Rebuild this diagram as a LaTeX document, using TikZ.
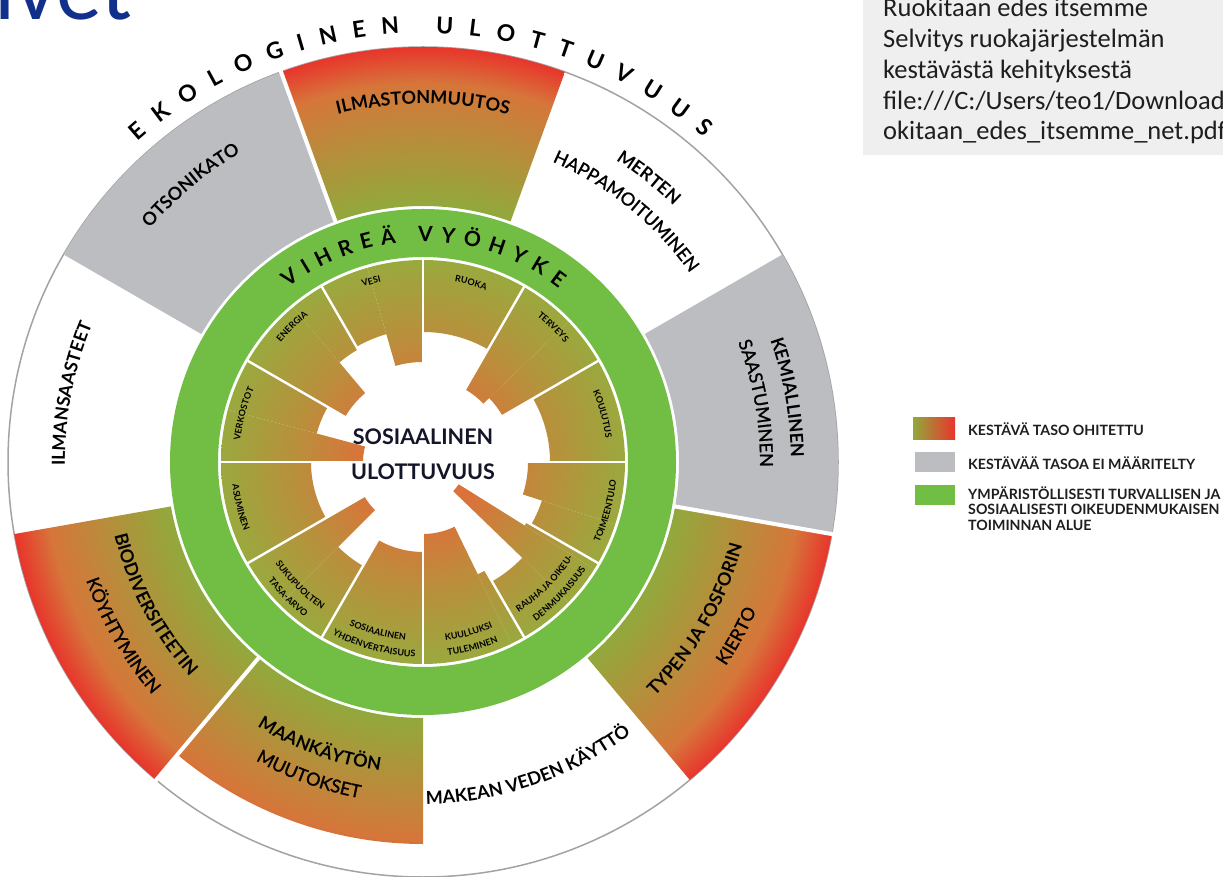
\documentclass[tikz,border=0pt]{standalone}
\usepackage{fontspec}
\setmainfont{Lato}
\newfontfamily\notefont{Carlito}
\newfontfamily\medfont{Lato}[FakeBold=1.2]
\usetikzlibrary{decorations.text}
\definecolor{clrOlive}{HTML}{93A83C}
\definecolor{clrMid}{HTML}{D6763A}
\definecolor{clrRed}{HTML}{E8352C}
\definecolor{clrInOlive}{HTML}{9AA93E}
\definecolor{clrInMid}{HTML}{B8903C}
\definecolor{clrInOrange}{HTML}{DB723A}
\definecolor{clrGreen}{HTML}{72BE45}
\definecolor{clrGray}{HTML}{BBBDC0}
\definecolor{clrRim}{HTML}{A3A3A3}
\definecolor{clrNote}{HTML}{EFEFEF}
\definecolor{clrTitle}{HTML}{10308C}
\definecolor{clrInk}{HTML}{1E1E1E}
\definecolor{clrCenter}{HTML}{15152A}
\pgfdeclareradialshading{outergrad}{\pgfpoint{0bp}{0bp}}{color(0bp)=(clrOlive); color(15.6bp)=(clrOlive); color(22.8bp)=(clrMid); color(25bp)=(clrRed); color(50bp)=(clrRed)}
\pgfdeclareradialshading{innergrad}{\pgfpoint{0bp}{0bp}}{color(0bp)=(clrInOrange); color(7.5bp)=(clrInOrange); color(16bp)=(clrInMid); color(25bp)=(clrInOlive); color(50bp)=(clrInOlive)}
\newcommand{\LabB}{\bfseries\fontsize{18}{18}\selectfont}
\newcommand{\LabR}{\medfont\fontsize{18}{18}\selectfont}
\newcommand{\LabS}{\bfseries\fontsize{9}{9}\selectfont}
\newcommand{\CWText}[4]{\path[decorate,decoration={text along path,text align=center,text={|#3|#4}}] ({#1+45}:#2) arc[start angle={#1+45},end angle={#1-45},radius=#2];}
\newcommand{\CCWText}[4]{\path[decorate,decoration={text along path,text align=center,text={|#3|#4}}] ({#1-45}:#2) arc[start angle={#1-45},end angle={#1+45},radius=#2];}
\newcommand{\GrayWedge}[2]{\fill[clrGray] (#1:256) arc[start angle=#1,end angle=#2,radius=256] -- (#2:415) arc[start angle=#2,end angle=#1,radius=415] -- cycle;}
\newcommand{\GradWedge}[3]{\begin{scope}\clip (#1:256) arc[start angle=#1,end angle=#2,radius=256] -- (#2:#3) arc[start angle=#2,end angle=#1,radius=#3] -- cycle; \shade[shading=outergrad] (0,0) circle (415);\end{scope}}
\tikzset{
  legendtext/.style={anchor=base west, inner sep=0, text=clrInk, font=\bfseries\fontsize{14.2}{14.2}\selectfont},
  notetext/.style={anchor=base west, inner sep=0, text=clrInk, font=\notefont\fontsize{26.5}{26.5}\selectfont},
  centertext/.style={inner sep=0, text=clrCenter, font=\bfseries\fontsize{21.5}{21.5}\selectfont}
}
\begin{document}
\begin{tikzpicture}[x=1pt,y=1pt]
\useasboundingbox (0,0) rectangle (1223,876);
\fill[white] (0,0) rectangle (1223,876);
% note box
\fill[clrNote] (863,721) rectangle (1223,880);
\node[notetext] (note1) at (883,859) {Ruokitaan edes itsemme};
\node[notetext] (note2) at (883,828) {Selvitys ruokajärjestelmän};
\node[notetext] (note3) at (883,797) {kestävästä kehityksestä};
\node[notetext] (note4) at (883,766) {file:///C:/Users/teo1/Downloads/Ru};
\node[notetext] (note5) at (883,736) {okitaan\_edes\_itsemme\_net.pdf};
% title fragment
\node[anchor=base west, inner sep=0, text=clrTitle, font=\notefont\fontsize{92}{92}\selectfont] (title) at (-6,856) {ivet};
% legend
\shade[left color=clrOlive, middle color=clrMid, right color=clrRed] (913,436) rectangle (955,458);
\fill[clrGray] (915,404) rectangle (955,424);
\fill[clrGreen] (915,371) rectangle (955,391);
\node[legendtext] (leg1) at (968,440) {KESTÄVÄ TASO OHITETTU};
\node[legendtext] (leg2) at (968,406) {KESTÄVÄÄ TASOA EI MÄÄRITELTY};
\node[legendtext] (leg3) at (968,376) {YMPÄRISTÖLLISESTI TURVALLISEN JA};
\node[legendtext] (leg4) at (968,361) {SOSIAALISESTI OIKEUDENMUKAISEN};
\node[legendtext] (leg5) at (968,345) {TOIMINNAN ALUE};
% doughnut
\begin{scope}[shift={(423,414)}]
  \draw[clrRim, line width=1.5] (0,0) circle (415);
  % ecological sectors
  \GradWedge{70}{110}{415}
  \GrayWedge{110}{150}
  \GrayWedge{-10}{30}
  \GradWedge{-50}{-10}{415}
  \GradWedge{-130}{-90}{382}
  \GradWedge{-170}{-130}{415}
  \foreach \t in {110,-10,-130} \draw[white, line width=4] (\t:250) -- (\t:420);
  % green band
  \fill[clrGreen, even odd rule] (0,0) circle (253) (0,0) circle (205);
  % social sectors
  \foreach \a/\b/\r in {90/106/100, 106/120/133, 120/130/130, 130/150/90,
      150/165/110, 165/180/60, 180/210/112, 210/225/68, 225/240/120,
      240/270/90, 270/296/72, 296/300/125, 300/316/138, 316/328/42,
      328/330/120, 330/342/125, 342/360/105, 0/30/127, 30/44/92,
      44/60/84, 60/90/130} {
    \begin{scope}
      \clip (\a:\r) arc[start angle=\a,end angle=\b,radius=\r] -- (\b:202) arc[start angle=\b,end angle=\a,radius=202] -- cycle;
      \shade[shading=innergrad] (0,0) circle (202);
    \end{scope}
  }
  \foreach \t in {0,30,...,330} \draw[white, line width=2.4] (0,0) -- (\t:204);
  % ring titles
  \path[decorate,decoration={text along path,text align={fit to path},text={|\bfseries\fontsize{23}{23}\selectfont|EKOLOGINEN ULOTTUVUUS}}] (131.7:429) arc[start angle=131.7,end angle=49.1,radius=429];
  \path[decorate,decoration={text along path,text align={fit to path},text={|\bfseries\fontsize{21}{21}\selectfont|VIHREÄ VYÖHYKE}}] (127.8:220.5) arc[start angle=127.8,end angle=52,radius=220.5];
  % ecological labels
  \CWText{90}{358}{\LabB}{ILMASTONMUUTOS}
  \CWText{51.5}{358}{\LabB}{MERTEN}
  \CWText{51}{327}{\LabR}{HAPPAMOITUMINEN}
  \CWText{10}{368}{\LabB}{KEMIALLINEN}
  \CWText{10}{337}{\LabR}{SAASTUMINEN}
  \CWText{169}{358}{\LabB}{ILMANSAASTEET}
  \CWText{130}{359}{\LabB}{OTSONIKATO}
  \CCWText{-30}{330}{\LabB}{TYPEN JA FOSFORIN}
  \CCWText{-29}{365}{\LabR}{KIERTO}
  \CCWText{-71}{342}{\LabB}{MAKEAN VEDEN KÄYTTÖ}
  \CCWText{-110}{312}{\LabB}{MAANKÄYTÖN}
  \CCWText{-110}{342}{\LabR}{MUUTOKSET}
  \CCWText{-152}{317}{\LabB}{BIODIVERSITEETIN}
  \CCWText{-150}{357}{\LabR}{KÖYHTYMINEN}
  % social labels
  \CWText{106}{185}{\LabS}{VESI}
  \CWText{75}{183}{\LabS}{RUOKA}
  \CWText{46}{185}{\LabS}{TERVEYS}
  \CWText{15}{184}{\LabS}{KOULUTUS}
  \CWText{134}{186}{\LabS}{ENERGIA}
  \CWText{165}{184}{\LabS}{VERKOSTOT}
  \CCWText{-166}{192}{\LabS}{ASUMINEN}
  \CCWText{-15}{194}{\LabS}{TOIMEENTULO}
  \CCWText{-45}{178}{\LabS}{RAUHA JA OIKEU-}
  \CCWText{-44}{195}{\LabS}{DENMUKAISUUS}
  \CCWText{-75}{180}{\LabS}{KUULLUKSI}
  \CCWText{-75}{195}{\LabS}{TULEMINEN}
  \CCWText{-105}{179}{\LabS}{SOSIAALINEN}
  \CCWText{-105}{195}{\LabS}{YHDENVERTAISUUS}
  \CCWText{-135}{179}{\LabS}{SUKUPUOLTEN}
  \CCWText{-135}{195}{\LabS}{TASA-ARVO}
  % centre
  \node[centertext] (soc1) at (0,25) {SOSIAALINEN};
  \node[centertext] (soc2) at (0,-10) {ULOTTUVUUS};
\end{scope}
\end{tikzpicture}
\end{document}
